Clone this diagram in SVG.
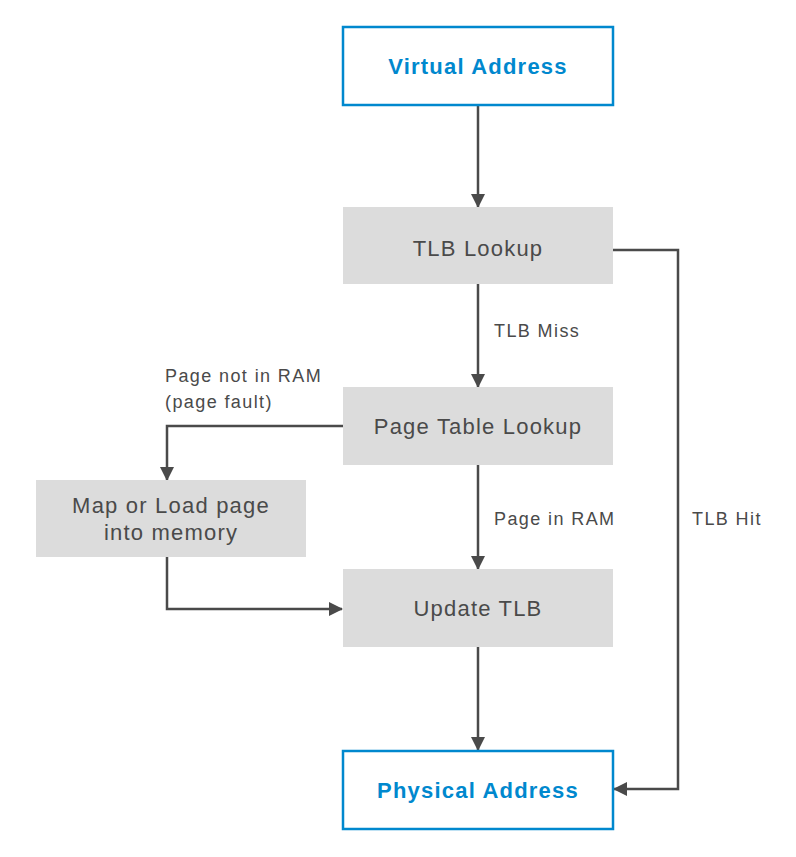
<svg xmlns="http://www.w3.org/2000/svg" width="796" height="857" viewBox="0 0 796 857">
<defs>
<marker id="ah" markerWidth="14" markerHeight="14" viewBox="0 0 14 14" refX="13" refY="7" orient="auto" markerUnits="userSpaceOnUse">
<path d="M0,0 L14,7 L0,14 Z" fill="#4a4a4a"/>
</marker>
<style>
.io rect{fill:#fff;stroke:#0088ce;stroke-width:2.5}
.io text{fill:#0088ce;font-family:"Liberation Sans",Arial,sans-serif;font-weight:bold;font-size:22px;letter-spacing:1.2px;text-anchor:middle}
.proc rect{fill:#dcdcdc}
.proc text{fill:#4a4a4a;font-family:"Liberation Sans",Arial,sans-serif;font-size:22px;letter-spacing:1.2px;text-anchor:middle}
.edges path{fill:none;stroke:#4a4a4a;stroke-width:2.5}
.lbl{fill:#4a4a4a;font-family:"Liberation Sans",Arial,sans-serif;font-size:18px;letter-spacing:1.4px}
</style>
</defs>
<rect width="796" height="857" fill="#fff"/>
<g class="edges">
<path d="M478,105 V207" marker-end="url(#ah)"/>
<path d="M478,284 V387" marker-end="url(#ah)"/>
<path d="M613,250 H678 V789 H614" marker-end="url(#ah)"/>
<path d="M343,426 H167 V480" marker-end="url(#ah)"/>
<path d="M478,465 V569" marker-end="url(#ah)"/>
<path d="M167,557 V609 H342" marker-end="url(#ah)"/>
<path d="M478,647 V750" marker-end="url(#ah)"/>
<text class="lbl" x="494" y="337">TLB Miss</text>
<text class="lbl" x="692" y="525">TLB Hit</text>
<text class="lbl" x="494" y="525">Page in RAM</text>
<text class="lbl" x="165" y="382">Page not in RAM</text>
<text class="lbl" x="165" y="408">(page fault)</text>
</g>
<g id="virtual-address" class="io"><rect x="343" y="27" width="270" height="78"/><text x="478" y="74">Virtual Address</text></g>
<g id="tlb-lookup" class="proc"><rect x="343" y="207" width="270" height="77"/><text x="478" y="256">TLB Lookup</text></g>
<g id="page-table-lookup" class="proc"><rect x="343" y="387" width="270" height="78"/><text x="478" y="434">Page Table Lookup</text></g>
<g id="map-load" class="proc"><rect x="36" y="480" width="270" height="77"/><text x="171" y="513">Map or Load page</text><text x="171" y="540">into memory</text></g>
<g id="update-tlb" class="proc"><rect x="343" y="569" width="270" height="78"/><text x="478" y="616">Update TLB</text></g>
<g id="physical-address" class="io"><rect x="343" y="751" width="270" height="78"/><text x="478" y="798">Physical Address</text></g>
</svg>
